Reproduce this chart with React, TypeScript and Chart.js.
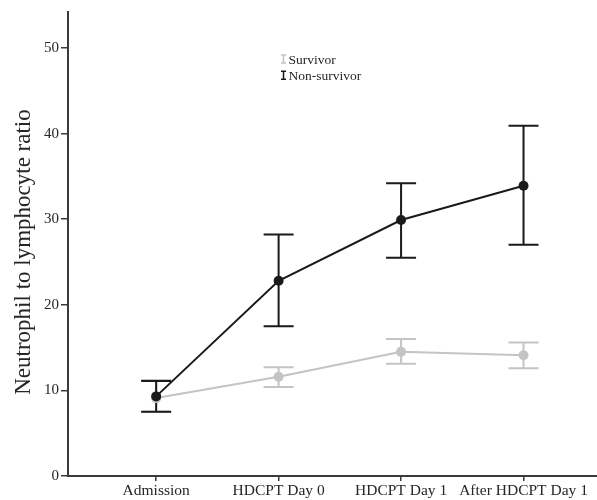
import React, { useEffect, useRef } from "react";
import { Chart, registerables } from "chart.js";

Chart.register(...registerables);

const categories = ["Admission", "HDCPT Day 0", "HDCPT Day 1", "After HDCPT Day 1"];
const survivorMean = [9.1, 11.6, 14.5, 14.1];
const survivorLow = [7.5, 10.4, 13.1, 12.6];
const survivorHigh = [11.2, 12.7, 16.0, 15.6];
const nonSurvivorMean = [9.3, 22.8, 29.9, 33.9];
const nonSurvivorLow = [7.5, 17.5, 25.5, 27.0];
const nonSurvivorHigh = [11.1, 28.2, 34.2, 40.9];
const yTicks = [0, 10, 20, 30, 40, 50];
const seriesNames = ["Survivor", "Non-survivor"];
const yTitle = "Neutrophil to lymphocyte ratio";

const GRAY = "#c4c4c4";
const DARK = "#1a1a1a";
const AXIS = "#3a3a3a";
const TEXT = "#262626";
const FONT = "'Liberation Serif', 'Times New Roman', serif";

const errorBarPlugin = {
  id: "errorBars",
  beforeDatasetsDraw(chart: any) {
    const { ctx, scales } = chart;
    const xs = scales.x;
    const ys = scales.y;
    const groups = [
      { low: survivorLow, high: survivorHigh, color: GRAY },
      { low: nonSurvivorLow, high: nonSurvivorHigh, color: DARK },
    ];
    ctx.save();
    groups.forEach((g) => {
      ctx.strokeStyle = g.color;
      ctx.lineWidth = 2;
      g.low.forEach((lo, i) => {
        const x = xs.getPixelForValue(i);
        const y1 = ys.getPixelForValue(lo);
        const y2 = ys.getPixelForValue(g.high[i]);
        const half = 15;
        ctx.beginPath();
        ctx.moveTo(x, y1);
        ctx.lineTo(x, y2);
        ctx.moveTo(x - half, y1);
        ctx.lineTo(x + half, y1);
        ctx.moveTo(x - half, y2);
        ctx.lineTo(x + half, y2);
        ctx.stroke();
      });
    });
    ctx.restore();
  },
};

const legendPlugin = {
  id: "customLegend",
  afterDraw(chart: any) {
    const { ctx, scales } = chart;
    const x0 = scales.x.getPixelForValue(1.04);
    const rows = [
      { name: seriesNames[0], color: GRAY, y: scales.y.getPixelForValue(48.7) },
      { name: seriesNames[1], color: DARK, y: scales.y.getPixelForValue(46.8) },
    ];
    ctx.save();
    rows.forEach((r) => {
      ctx.strokeStyle = r.color;
      ctx.lineWidth = 1.5;
      ctx.beginPath();
      ctx.moveTo(x0, r.y - 4);
      ctx.lineTo(x0, r.y + 4);
      ctx.moveTo(x0 - 2.5, r.y - 4);
      ctx.lineTo(x0 + 2.5, r.y - 4);
      ctx.moveTo(x0 - 2.5, r.y + 4);
      ctx.lineTo(x0 + 2.5, r.y + 4);
      ctx.stroke();
      ctx.fillStyle = TEXT;
      ctx.font = `13.5px ${FONT}`;
      ctx.textAlign = "left";
      ctx.textBaseline = "middle";
      ctx.fillText(r.name, x0 + 5, r.y + 1);
    });
    ctx.restore();
  },
};

const yTitlePlugin = {
  id: "yTitle",
  afterDraw(chart: any) {
    const { ctx, chartArea } = chart;
    ctx.save();
    ctx.translate(24, (chartArea.top + chartArea.bottom) / 2 + 8);
    ctx.rotate(-Math.PI / 2);
    ctx.fillStyle = TEXT;
    ctx.font = `23px ${FONT}`;
    ctx.textAlign = "center";
    ctx.textBaseline = "middle";
    ctx.fillText(yTitle, 0, 0);
    ctx.restore();
  },
};

export default function App() {
  const ref = useRef<HTMLCanvasElement>(null);
  useEffect(() => {
    document.body.style.margin = "0";
    if (!ref.current) return;
    const chart = new Chart(ref.current, {
      type: "line",
      data: {
        datasets: [
          {
            label: seriesNames[1],
            data: nonSurvivorMean.map((v, i) => ({ x: i, y: v })),
            borderColor: DARK,
            backgroundColor: DARK,
            borderWidth: 2,
            pointRadius: 5,
            pointBorderWidth: 0,
            tension: 0,
          },
          {
            label: seriesNames[0],
            data: survivorMean.map((v, i) => ({ x: i, y: v })),
            borderColor: GRAY,
            backgroundColor: GRAY,
            borderWidth: 2,
            pointRadius: 5,
            pointBorderWidth: 0,
            tension: 0,
          },
        ],
      },
      options: {
        animation: false,
        responsive: false,
        layout: { autoPadding: false, padding: { top: 12, right: 0, left: 0, bottom: 0 } },
        plugins: { legend: { display: false }, tooltip: { enabled: false } },
        scales: {
          x: {
            type: "linear",
            min: -0.72,
            max: 3.6,
            afterBuildTicks: (scale: any) => {
              scale.ticks = categories.map((_, i) => ({ value: i }));
            },
            afterFit: (scale: any) => {
              scale.height = 24;
            },
            ticks: {
              autoSkip: false,
              maxRotation: 0,
              padding: 1,
              color: TEXT,
              font: { family: FONT, size: 15.5 },
              callback: (v: any) => categories[v] ?? "",
            },
            grid: {
              drawOnChartArea: false,
              drawTicks: true,
              tickLength: 5,
              color: AXIS,
              lineWidth: 1.5,
            },
            border: { color: AXIS, width: 2 },
          },
          y: {
            type: "linear",
            min: 0,
            max: 54.2,
            afterBuildTicks: (scale: any) => {
              scale.ticks = yTicks.map((v) => ({ value: v }));
            },
            afterFit: (scale: any) => {
              scale.width = 68;
            },
            ticks: {
              padding: 2,
              color: TEXT,
              font: { family: FONT, size: 15 },
            },
            grid: {
              drawOnChartArea: false,
              drawTicks: true,
              tickLength: 7,
              color: AXIS,
              lineWidth: 1.5,
            },
            border: { color: AXIS, width: 2 },
          },
        },
      },
      plugins: [errorBarPlugin, legendPlugin, yTitlePlugin],
    });
    return () => chart.destroy();
  }, []);
  return <canvas ref={ref} width={597} height={500} style={{ display: "block" }} />;
}
